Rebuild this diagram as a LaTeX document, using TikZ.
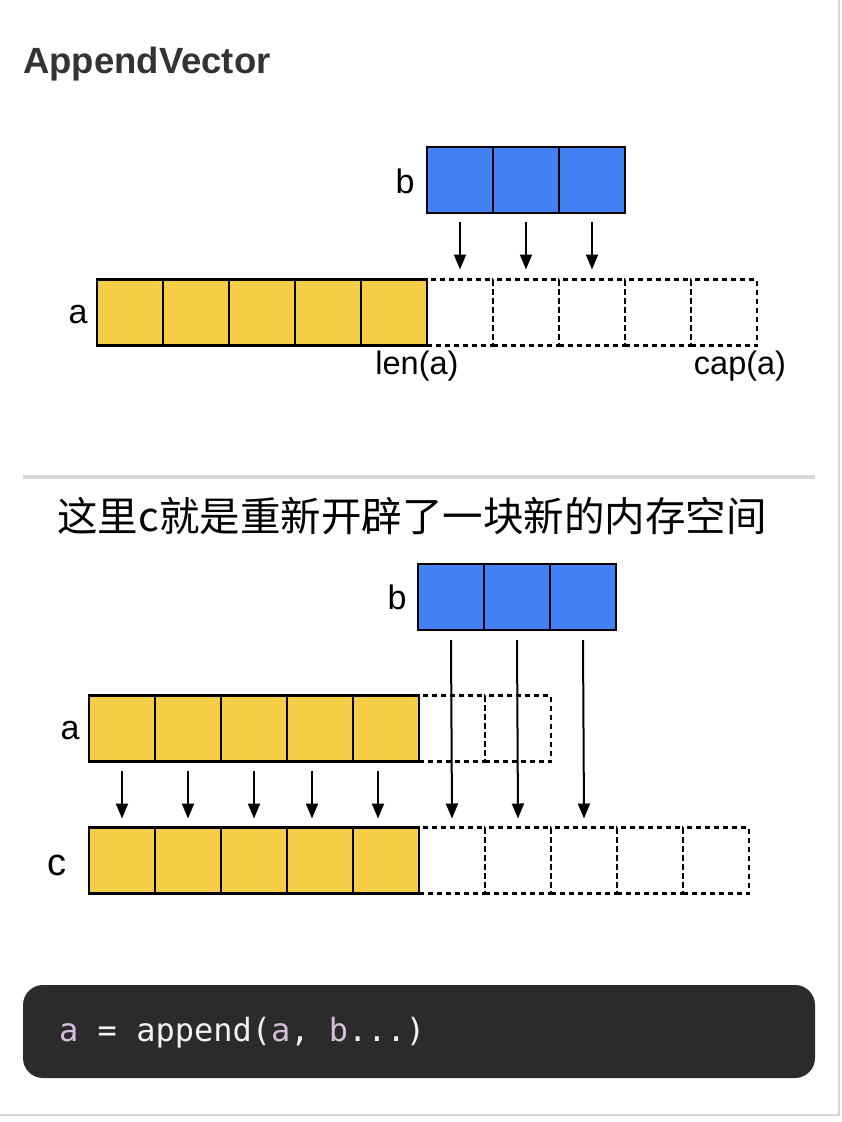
\documentclass[tikz,border=0pt]{standalone}
\usepackage{fontspec}
\setmainfont{Liberation Sans}
\newfontfamily\cjkfont{Noto Sans CJK SC}
\newfontfamily\codefont{DejaVu Sans Mono}
\usetikzlibrary{arrows.meta}
\definecolor{celly}{HTML}{F5CD47}
\definecolor{cellb}{HTML}{4282F4}
\definecolor{titlegray}{HTML}{333333}
\definecolor{rulegray}{HTML}{D6D6D6}
\definecolor{codebg}{HTML}{2B2B2B}
\definecolor{codepurple}{HTML}{D4BEDC}
\definecolor{codewhite}{HTML}{F2F2F2}

\begin{document}
\begin{tikzpicture}[x=1pt, y=-1pt,
		yellowcell/.style={draw, line width=2.2pt, fill=celly, minimum width=66pt, minimum height=66pt, inner sep=0pt, outer sep=0pt},
		bluecell/.style={yellowcell, fill=cellb},
		freecell/.style={yellowcell, fill=none, dash pattern=on 5pt off 4pt},
		lab/.style={font=\fontsize{34}{40}\selectfont, anchor=base, inner sep=0pt},
		arr/.style={line width=2pt, -{Triangle[length=15pt,width=12pt]}}]
		\useasboundingbox (0,0) rectangle (842,1122);
		\begin{scope}
		% card edge
		\draw[rulegray, line width=2pt] (839,0) -- (839,1115) -- (0,1115);
		\node[anchor=base west, inner sep=0pt, text=titlegray, font=\fontsize{36.5}{40}\selectfont\bfseries] (title) at (23,73) {AppendVector};
		% top: a with spare capacity
		\node[freecell] (a6) at (460,312.5) {};
		\node[freecell] (a7) at (526,312.5) {};
		\node[freecell] (a8) at (592,312.5) {};
		\node[freecell] (a9) at (658,312.5) {};
		\node[freecell] (a10) at (724,312.5) {};
		\node[yellowcell] (a1) at (130,312.5) {};
		\node[yellowcell] (a2) at (196,312.5) {};
		\node[yellowcell] (a3) at (262,312.5) {};
		\node[yellowcell] (a4) at (328,312.5) {};
		\node[yellowcell] (a5) at (394,312.5) {};
		\node[bluecell] (b1) at (460,180) {};
		\node[bluecell] (b2) at (526,180) {};
		\node[bluecell] (b3) at (592,180) {};
		\node[lab] (la) at (78,323) {a};
		\node[lab] (lb) at (405,193) {b};
		\node[lab, font=\fontsize{32.5}{40}\selectfont] (len) at (417,374) {len(a)};
		\node[lab, font=\fontsize{32.5}{40}\selectfont] (cap) at (740,374) {cap(a)};
		\draw[arr] ([yshift=-9pt]b1.south) -- ([yshift=10pt]a6.north);
		\draw[arr] ([yshift=-9pt]b2.south) -- ([yshift=10pt]a7.north);
		\draw[arr] ([yshift=-9pt]b3.south) -- ([yshift=10pt]a8.north);
		% separator
		\draw[rulegray, line width=4pt] (23,477) -- (815,477);
		\node[anchor=base, inner sep=0pt, font=\fontsize{40.5}{46}\selectfont\cjkfont] (note) at (412,531) {这里c就是重新开辟了一块新的内存空间};
		% bottom: new array c
		\node[freecell] (p6) at (452,728.5) {};
		\node[freecell] (p7) at (518,728.5) {};
		\node[yellowcell] (p1) at (122,728.5) {};
		\node[yellowcell] (p2) at (188,728.5) {};
		\node[yellowcell] (p3) at (254,728.5) {};
		\node[yellowcell] (p4) at (320,728.5) {};
		\node[yellowcell] (p5) at (386,728.5) {};
		\node[freecell] (c6) at (452,860.5) {};
		\node[freecell] (c7) at (518,860.5) {};
		\node[freecell] (c8) at (584,860.5) {};
		\node[freecell] (c9) at (650,860.5) {};
		\node[freecell] (c10) at (716,860.5) {};
		\node[yellowcell] (c1) at (122,860.5) {};
		\node[yellowcell] (c2) at (188,860.5) {};
		\node[yellowcell] (c3) at (254,860.5) {};
		\node[yellowcell] (c4) at (320,860.5) {};
		\node[yellowcell] (c5) at (386,860.5) {};
		\node[bluecell] (q1) at (451,597) {};
		\node[bluecell] (q2) at (517,597) {};
		\node[bluecell] (q3) at (583,597) {};
		\node[lab] (lq) at (397,609) {b};
		\node[lab] (lp) at (70,739) {a};
		\node[lab, font=\fontsize{38}{40}\selectfont] (lc) at (57,875) {c};
		\draw[arr] ([yshift=-9pt]p1.south) -- ([yshift=9pt]c1.north);
		\draw[arr] ([yshift=-9pt]p2.south) -- ([yshift=9pt]c2.north);
		\draw[arr] ([yshift=-9pt]p3.south) -- ([yshift=9pt]c3.north);
		\draw[arr] ([xshift=-8pt,yshift=-9pt]p4.south) -- ([xshift=-8pt,yshift=9pt]c4.north);
		\draw[arr] ([xshift=-8pt,yshift=-9pt]p5.south) -- ([xshift=-8pt,yshift=9pt]c5.north);
		\draw[arr] ([yshift=-10pt]q1.south) -- ([yshift=9pt]c6.north);
		\draw[arr] ([yshift=-10pt]q2.south) -- ([yshift=9pt]c7.north);
		\draw[arr] ([yshift=-10pt]q3.south) -- ([yshift=9pt]c8.north);
		% code
		\node[fill=codebg, rounded corners=20pt, minimum width=792pt, minimum height=93pt, inner sep=0pt] (code) at (419,1031.5) {};
		\node[anchor=base west, inner sep=0pt, text=codewhite, font=\fontsize{32}{36}\codefont] (line) at (59,1041) {{\color{codepurple}a} = append({\color{codepurple}a}, {\color{codepurple}b}...)};
		\end{scope}
		\end{tikzpicture}
\end{document}
